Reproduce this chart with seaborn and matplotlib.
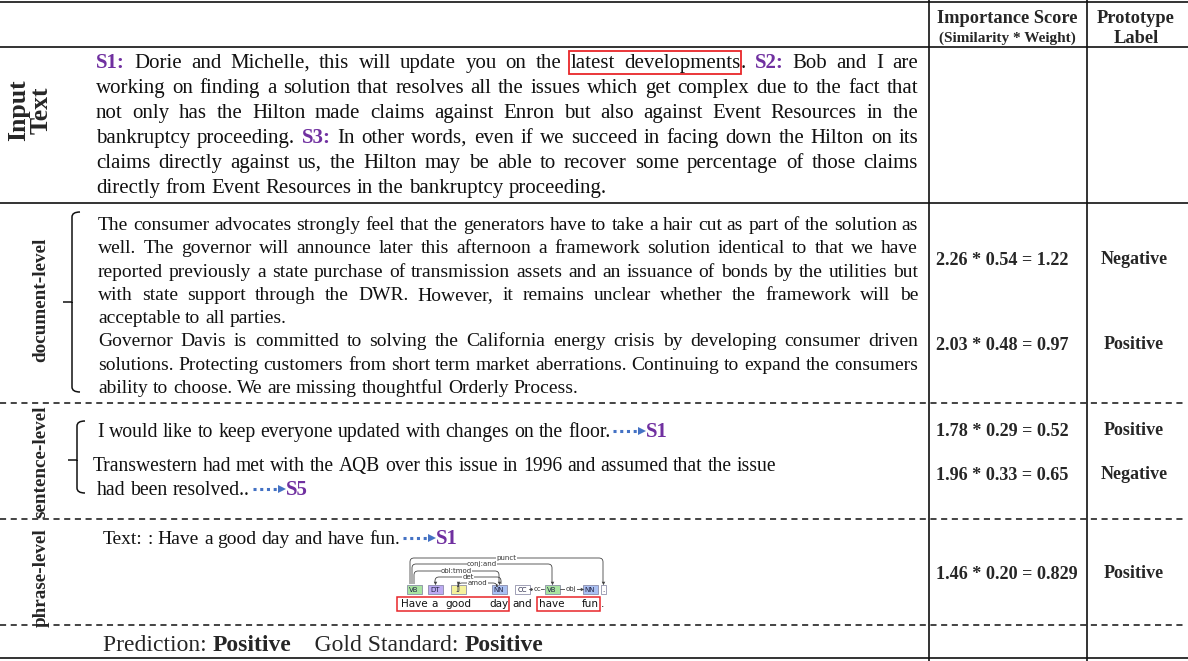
import matplotlib
matplotlib.use("Agg")
import matplotlib.pyplot as plt
from matplotlib.path import Path
from matplotlib.patches import PathPatch, Rectangle
import seaborn as sns

sns.set_theme(style="white")
plt.rcParams["font.family"] = ["Liberation Serif", "DejaVu Serif"]

PURPLE = "#7030a0"
BLUE = "#4472c4"
RED = "#e8262a"
INK = "#111111"

# header of the two score columns
HEADERS = ["Importance Score", "Prototype"]
SUBHEADERS = ["(Similarity * Weight)", "Label"]

# input text; <..> = sentence id, [..] = highlighted span
INPUT_LINES = [
    "<S1:> Dorie and Michelle, this will update you on the [latest developments]. <S2:> Bob and I are",
    "working on finding a solution that resolves all the issues which get complex due to the fact that",
    "not only has the Hilton made claims against Enron but also against Event Resources in the",
    "bankruptcy proceeding. <S3:> In other words, even if we succeed in facing down the Hilton on its",
    "claims directly against us, the Hilton may be able to recover some percentage of those claims",
    "directly from Event Resources in the bankruptcy proceeding.",
]

DOC_LINES = [
    "The consumer advocates strongly feel that the generators have to take a hair cut as part of the solution as",
    "well. The governor will announce later this afternoon a framework solution identical to that we have",
    "reported previously a state purchase of transmission assets and an issuance of bonds by the utilities but",
    "with state support through the DWR. However, it remains unclear whether the framework will be",
    "acceptable to all parties.",
    "Governor Davis is committed to solving the California energy crisis by developing consumer driven",
    "solutions. Protecting customers from short term market aberrations. Continuing to expand the consumers",
    "ability to choose. We are missing thoughtful Orderly Process.",
]
DOC_LAST = [4, 7]  # last line of each paragraph (not justified)

SENT_LINES = [
    "I would like to keep everyone updated with changes on the floor.",
    "Transwestern had met with the AQB over this issue in 1996 and assumed that the issue",
    " had been resolved..",
]
SENT_LINKS = ["S1", "S5"]
PHRASE_TEXT = "Text: : Have a good day and have fun."
PHRASE_LINK = "S1"

LEVELS = ["document-level", "sentence-level", "phrase-level"]
SIMILARITY = [2.26, 2.03, 1.78, 1.96, 1.46]
WEIGHT = [0.54, 0.48, 0.29, 0.33, 0.20]
IMPORTANCE = ["1.22", "0.97", "0.52", "0.65", "0.829"]
PROTO_LABELS = ["Negative", "Positive", "Positive", "Negative", "Positive"]

PREDICTION = "Positive"
GOLD = "Positive"

# dependency parse of the phrase
DEP_WORDS = ["Have", "a", "good", "day", "and", "have", "fun", "."]
DEP_TAGS = ["VB", "DT", "JJ", "NN", "CC", "VB", "NN", "."]
DEP_ARCS = [(0, 7, "punct"), (0, 5, "conj:and"), (0, 3, "obl:tmod"),
            (3, 1, "det"), (3, 2, "amod"), (5, 4, "cc"), (5, 6, "obj")]
DEP_SPANS = [(0, 3), (5, 6)]
TAG_COLORS = {"VB": "#a8e4a0", "DT": "#bcaaf2", "JJ": "#f5f29c",
              "NN": "#aac0f2", "CC": "#ffffff", ".": "#ffffff"}

# layout (pixels)
ROW_Y = [265, 350, 436, 480, 579]
DEP_X = [414, 435, 458, 499, 522, 552, 590, 603]

fig = plt.figure(figsize=(11.88, 6.61), dpi=100)
ax = fig.add_axes([0, 0, 1, 1])
ax.set_xlim(0, 1188)
ax.set_ylim(661, 0)
ax.axis("off")
renderer = fig.canvas.get_renderer()


def text_w(t):
    return t.get_window_extent(renderer).width


def space_w(size, weight="normal"):
    a = ax.text(0, 0, "a a", fontsize=size, fontweight=weight)
    b = ax.text(0, 0, "aa", fontsize=size, fontweight=weight)
    w = text_w(a) - text_w(b)
    a.remove()
    b.remove()
    return w


def parse(line):
    words, cur, buf = [], [], ""
    purple = box = False
    for ch in line + " ":
        if ch in "<>[] ":
            if buf:
                cur.append((buf, purple, box))
                buf = ""
            if ch == " ":
                if cur:
                    words.append(cur)
                    cur = []
            elif ch in "<>":
                purple = ch == "<"
            else:
                box = ch == "["
        else:
            buf += ch
    return words


def draw_line(x0, y, line, size, right=None):
    items, widths = [], []
    for w in parse(line):
        arts = []
        for txt, purple, box in w:
            t = ax.text(0, y, txt, fontsize=size, va="baseline", ha="left",
                        color=PURPLE if purple else INK,
                        fontweight="bold" if purple else "normal")
            arts.append((t, text_w(t), box))
        items.append(arts)
        widths.append(sum(a[1] for a in arts))
    gap = space_w(size)
    if right is not None and len(items) > 1:
        gap = (right - x0 - sum(widths)) / (len(items) - 1)
    x = x0
    bx = []
    for arts in items:
        for t, wd, box in arts:
            t.set_x(x)
            if box:
                bx += [x, x + wd]
            x += wd
        x += gap
    if bx:
        ax.add_patch(Rectangle((min(bx) - 2, y - 17), max(bx) - min(bx) + 3, 23,
                               fill=False, ec=RED, lw=1.3))
    return x - gap


def link(x, y, label):
    ax.plot([x + 3, x + 30], [y, y], ls=(0, (1, 1.2)), color=BLUE, lw=2.2)
    ax.plot(x + 32, y, marker=">", color=BLUE, ms=5.5, mew=0)
    ax.text(x + 36, y + 6, label, fontsize=15, fontweight="bold", color=PURPLE,
            va="baseline", ha="left")


def brace(x, y0, y1, ym):
    r = 5
    verts = [(x + 8, y0), (x, y0), (x, y0 + r), (x, ym), (x - 9, ym),
             (x, ym), (x, y1 - r), (x, y1), (x + 8, y1)]
    codes = [Path.MOVETO, Path.CURVE3, Path.CURVE3, Path.LINETO, Path.LINETO,
             Path.MOVETO, Path.LINETO, Path.CURVE3, Path.CURVE3]
    ax.add_patch(PathPatch(Path(verts, codes), fill=False, ec=INK, lw=1.1))


# ---- table rules
for y in [2, 47, 203, 658]:
    ax.plot([0, 1188], [y, y], color=INK, lw=1.2, solid_capstyle="butt")
for y in [403, 519, 625]:
    ax.plot([0, 1186], [y, y], color=INK, lw=1.1, dashes=(4, 3))
for x in [929, 1087]:
    ax.plot([x, x], [0, 661], color=INK, lw=1.2)

# ---- header
ax.text(1007, 23, HEADERS[0], fontsize=13.2, fontweight="bold", ha="center", va="baseline")
ax.text(1007, 42, SUBHEADERS[0], fontsize=11, fontweight="bold", ha="center", va="baseline")
ax.text(1136, 23, HEADERS[1], fontsize=13.3, fontweight="bold", ha="center", va="baseline")
ax.text(1136, 43, SUBHEADERS[1], fontsize=13.3, fontweight="bold", ha="center", va="baseline")

# ---- row labels
ax.text(19, 110, "Input", rotation=90, fontsize=18.5, fontweight="bold", ha="center", va="center")
ax.text(41, 110, "Text", rotation=90, fontsize=18.5, fontweight="bold", ha="center", va="center")
for lab, yc in zip(LEVELS, [300, 462, 578]):
    ax.text(41, yc, lab, rotation=90, fontsize=13.8, fontweight="bold", ha="center", va="center")

# ---- input text
for i, line in enumerate(INPUT_LINES):
    last = i == len(INPUT_LINES) - 1
    draw_line(96, 68 + 25 * i, line, 15, None if last else 918)

# ---- document level
brace(72, 212, 392, 302)
for i, line in enumerate(DOC_LINES):
    draw_line(98, 230 + 23.3 * i, line, 14, None if i in DOC_LAST else 918)

# ---- sentence level
brace(77, 421, 493, 460)
end = draw_line(97, 437, SENT_LINES[0], 14.2)
link(end, 431, SENT_LINKS[0])
draw_line(93, 471, SENT_LINES[1], 14.1)
end = draw_line(97, 495, SENT_LINES[2], 14.2)
link(end, 489, SENT_LINKS[1])

# ---- phrase level
end = draw_line(103, 544, PHRASE_TEXT, 14)
link(end, 538, PHRASE_LINK)

tag_y = 589
for i, (tag, x) in enumerate(zip(DEP_TAGS, DEP_X)):
    w = 6 * len(tag) + 3 if tag != "." else 5
    ax.add_patch(Rectangle((x - w / 2, tag_y - 4.5), w, 9, fc=TAG_COLORS[tag],
                           ec="#7a7a9a", lw=0.5))
    ax.text(x, tag_y + 0.5, tag, fontsize=5, family="DejaVu Sans", ha="center",
            va="center", color="#222244")
    ax.text(x, 607, DEP_WORDS[i], fontsize=7.5, family="DejaVu Sans", ha="center",
            va="baseline", color=INK)

arc_tops = [558, 564, 571, 577, 583]
for k, (h, d, lab) in enumerate(DEP_ARCS):
    xh, xd = DEP_X[h], DEP_X[d]
    if k < len(arc_tops):
        top = arc_tops[k]
        off = [-4, -2, 0, 2, -2][k]
        xh = xh + off
        s = 1 if xd > xh else -1
        r = 4
        verts = [(xh, 584), (xh, top + r), (xh, top), (xh + s * r, top),
                 (xd - s * r, top), (xd, top), (xd, top + r), (xd, 583)]
        codes = [Path.MOVETO, Path.LINETO, Path.CURVE3, Path.CURVE3,
                 Path.LINETO, Path.CURVE3, Path.CURVE3, Path.LINETO]
        ax.add_patch(PathPatch(Path(verts, codes), fill=False, ec="#444444", lw=0.6))
        ax.plot(xd, 583, marker="v", ms=2.5, color="#444444", mew=0)
        ax.text((xh + xd) / 2, top, lab, fontsize=5, family="DejaVu Sans", ha="center",
                va="center", color="#333333",
                bbox=dict(boxstyle="square,pad=0.05", fc="white", ec="none"))
    else:
        s = 1 if xd > xh else -1
        x0 = xh + s * 8
        x1 = xd - s * 8
        ax.plot([x0, x1], [tag_y, tag_y], color="#444444", lw=0.6)
        ax.plot(x1, tag_y, marker="<" if s < 0 else ">", ms=2.5, color="#444444", mew=0)
        ax.text((x0 + x1) / 2, tag_y, lab, fontsize=5, family="DejaVu Sans", ha="center",
                va="center", color="#333333",
                bbox=dict(boxstyle="square,pad=0.05", fc="white", ec="none"))

for a, b in DEP_SPANS:
    xa = DEP_X[a] - 17 if a == 0 else DEP_X[a] - 15
    xb = DEP_X[b] + 10
    ax.add_patch(Rectangle((xa, 597), xb - xa, 14, fill=False, ec=RED, lw=1.1))

# ---- score columns
for i in range(len(SIMILARITY)):
    s = f"{SIMILARITY[i]:.2f} * {WEIGHT[i]:.2f} = {IMPORTANCE[i]}"
    ax.text(936, ROW_Y[i], s, fontsize=13.1, fontweight="bold", ha="left", va="baseline")
    ax.text(1134, ROW_Y[i] - 1, PROTO_LABELS[i], fontsize=13, fontweight="bold",
            ha="center", va="baseline")

# ---- prediction row
x = 103
for txt, wt in [("Prediction: ", "normal"), (PREDICTION, "bold"),
                ("    Gold Standard: ", "normal"), (GOLD, "bold")]:
    t = ax.text(x, 651, txt, fontsize=17, fontweight=wt, ha="left", va="baseline")
    x += text_w(t)

plt.savefig("out.png", dpi=100)
